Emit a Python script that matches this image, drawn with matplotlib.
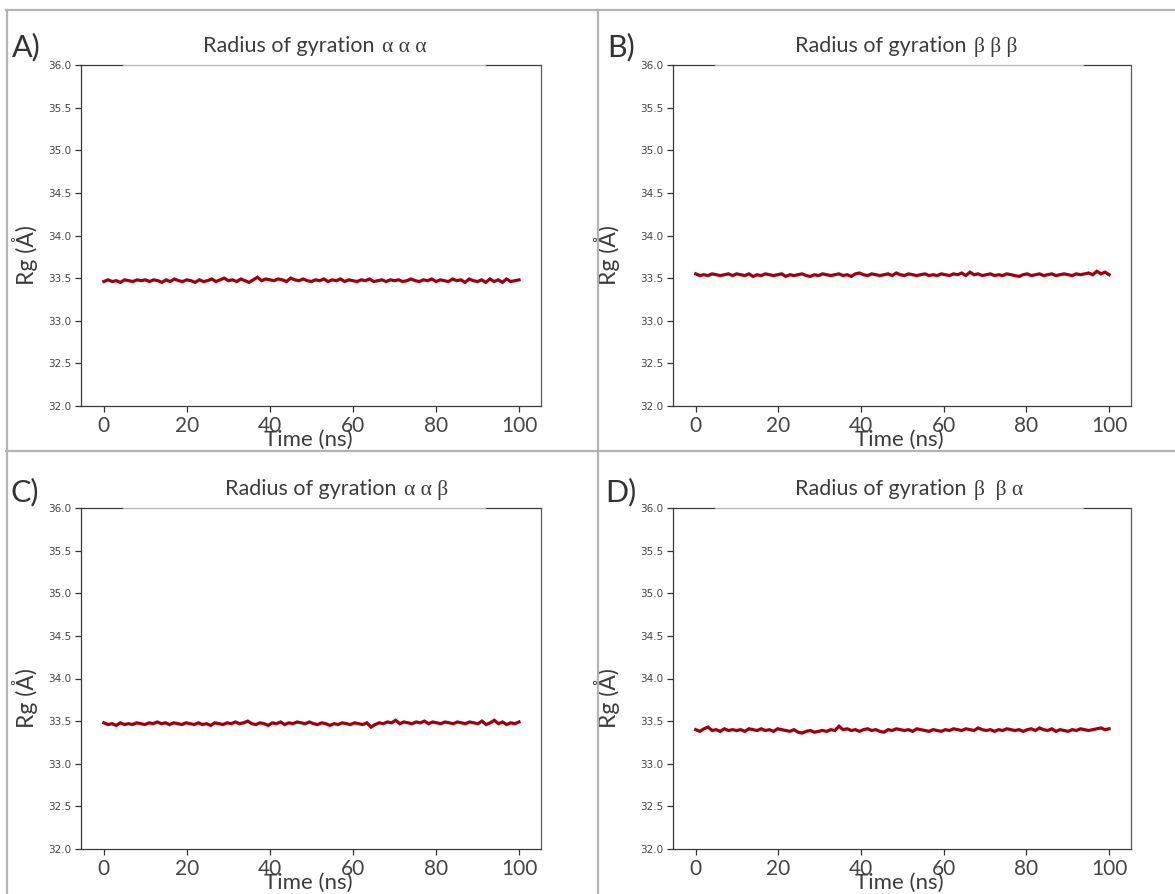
import numpy as np
import matplotlib
matplotlib.use("Agg")
import matplotlib.pyplot as plt
from matplotlib.lines import Line2D

# ---------------- data ----------------
panel_labels = ["A)", "B)", "C)", "D)"]
title_main = "Radius of gyration"
title_greek = ["\u03b1 \u03b1 \u03b1", "\u03b2 \u03b2 \u03b2",
               "\u03b1 \u03b1 \u03b2", "\u03b2  \u03b2 \u03b1"]
x_label = "Time (ns)"
y_label = "Rg (\u00c5)"
x_ticks = [0, 20, 40, 60, 80, 100]
y_ticks = [32.0, 32.5, 33.0, 33.5, 34.0, 34.5, 35.0, 35.5, 36.0]

rg_aaa = [33.46, 33.48, 33.46, 33.47, 33.45, 33.48, 33.47, 33.46, 33.48, 33.47, 33.48,
          33.46, 33.48, 33.47, 33.45, 33.48, 33.46, 33.49, 33.47, 33.46, 33.48,
          33.47, 33.45, 33.48, 33.46, 33.47, 33.49, 33.46, 33.48, 33.50, 33.47,
          33.48, 33.46, 33.49, 33.47, 33.45, 33.48, 33.51, 33.47, 33.49, 33.48,
          33.47, 33.49, 33.48, 33.46, 33.50, 33.48, 33.47, 33.49, 33.47, 33.46,
          33.48, 33.47, 33.49, 33.46, 33.48, 33.47, 33.49, 33.46, 33.48, 33.47,
          33.46, 33.48, 33.47, 33.49, 33.46, 33.47, 33.48, 33.46, 33.48, 33.47,
          33.48, 33.46, 33.47, 33.49, 33.47, 33.46, 33.48, 33.47, 33.49, 33.46,
          33.48, 33.47, 33.46, 33.49, 33.47, 33.48, 33.45, 33.49, 33.47, 33.46,
          33.48, 33.45, 33.49, 33.46, 33.48, 33.45, 33.49, 33.46, 33.47, 33.48]

rg_bbb = [33.55, 33.53, 33.54, 33.53, 33.55, 33.54, 33.53, 33.54, 33.55, 33.53, 33.55,
          33.54, 33.53, 33.55, 33.52, 33.54, 33.53, 33.55, 33.54, 33.53, 33.54,
          33.55, 33.52, 33.54, 33.53, 33.54, 33.55, 33.53, 33.52, 33.54, 33.53,
          33.55, 33.54, 33.53, 33.54, 33.55, 33.53, 33.54, 33.52, 33.55, 33.56,
          33.54, 33.53, 33.55, 33.54, 33.53, 33.54, 33.55, 33.53, 33.56, 33.54,
          33.53, 33.55, 33.54, 33.53, 33.54, 33.55, 33.53, 33.54, 33.53, 33.55,
          33.54, 33.53, 33.55, 33.54, 33.56, 33.53, 33.57, 33.54, 33.55, 33.53,
          33.54, 33.55, 33.53, 33.54, 33.53, 33.55, 33.54, 33.53, 33.52, 33.54,
          33.55, 33.53, 33.54, 33.55, 33.53, 33.54, 33.55, 33.53, 33.54, 33.55,
          33.54, 33.53, 33.55, 33.54, 33.55, 33.56, 33.54, 33.58, 33.55, 33.57, 33.54]

rg_aab = [33.48, 33.46, 33.47, 33.45, 33.48, 33.46, 33.47, 33.46, 33.48, 33.47, 33.46,
          33.48, 33.47, 33.49, 33.47, 33.48, 33.46, 33.48, 33.47, 33.46, 33.48,
          33.47, 33.46, 33.48, 33.46, 33.47, 33.45, 33.48, 33.47, 33.46, 33.48,
          33.47, 33.49, 33.47, 33.48, 33.50, 33.47, 33.46, 33.48, 33.47, 33.45,
          33.48, 33.47, 33.49, 33.46, 33.48, 33.47, 33.49, 33.48, 33.47, 33.49,
          33.47, 33.46, 33.48, 33.47, 33.45, 33.47, 33.46, 33.48, 33.47, 33.46,
          33.48, 33.47, 33.46, 33.48, 33.43, 33.46, 33.48, 33.47, 33.49, 33.48,
          33.51, 33.47, 33.49, 33.48, 33.47, 33.49, 33.48, 33.50, 33.47, 33.49,
          33.48, 33.47, 33.49, 33.48, 33.47, 33.49, 33.48, 33.47, 33.49, 33.48,
          33.47, 33.50, 33.46, 33.48, 33.51, 33.47, 33.49, 33.46, 33.48, 33.47, 33.49]

rg_bba = [33.40, 33.38, 33.41, 33.43, 33.39, 33.40, 33.38, 33.41, 33.39, 33.40, 33.39,
          33.40, 33.38, 33.41, 33.40, 33.39, 33.41, 33.39, 33.40, 33.38, 33.41,
          33.40, 33.39, 33.38, 33.40, 33.37, 33.36, 33.38, 33.39, 33.37, 33.38,
          33.39, 33.38, 33.40, 33.39, 33.44, 33.40, 33.41, 33.39, 33.40, 33.38,
          33.40, 33.41, 33.39, 33.40, 33.38, 33.37, 33.40, 33.39, 33.41, 33.40,
          33.39, 33.40, 33.38, 33.41, 33.40, 33.39, 33.38, 33.40, 33.39, 33.38,
          33.40, 33.39, 33.41, 33.40, 33.39, 33.41, 33.40, 33.39, 33.42, 33.40,
          33.39, 33.40, 33.38, 33.40, 33.39, 33.41, 33.40, 33.39, 33.40, 33.38,
          33.40, 33.41, 33.39, 33.42, 33.40, 33.39, 33.41, 33.38, 33.40, 33.39,
          33.38, 33.40, 33.39, 33.41, 33.40, 33.39, 33.40, 33.41, 33.42, 33.40, 33.41]

series = [rg_aaa, rg_bbb, rg_aab, rg_bba]

# ---------------- style ----------------
W, H = 1175, 894
fig = plt.figure(figsize=(W / 100, H / 100), dpi=100)
fig.patch.set_facecolor("white")

text_font = ["Lato", "DejaVu Sans"]
greek_font = ["Liberation Serif", "DejaVu Serif"]
line_color = "#9e000f"
text_color = "#3c3c3c"

# axes rectangles in pixel coordinates: (left, top, right, bottom)
rects = [(81, 65, 541, 406), (673, 65, 1131, 406),
         (81, 508, 541, 849), (673, 508, 1131, 849)]
label_pos = [(26, 47), (621, 47), (25, 492), (621, 492)]
title_left_px = [203, 795, 225, 795]

def px2fig(x, y):
    return x / W, 1 - y / H

renderer = fig.canvas.get_renderer()

for i, (lx, ty, rx, by) in enumerate(rects):
    l, t = px2fig(lx, ty)
    r, b = px2fig(rx, by)
    ax = fig.add_axes([l, b, r - l, t - b])
    rg = series[i]
    time_ns = np.linspace(0, 100, len(rg))
    ax.plot(time_ns, rg, color=line_color, lw=2.3, solid_joinstyle="miter")
    ax.set_xlim(-5.5, 105.3)
    ax.set_ylim(32.0, 36.0)
    ax.set_yticks(y_ticks)
    ax.set_yticklabels([f"{v:.1f}" for v in y_ticks], fontsize=7.5,
                       color="#444444", family="DejaVu Sans")
    ax.set_xticks(x_ticks)
    ax.set_xticklabels([str(v) for v in x_ticks], fontsize=15,
                       color="#454545", family=text_font)
    ax.tick_params(axis="both", direction="out", length=4, width=0.9,
                   color="#333333", pad=3)
    for s in ["left", "bottom", "right"]:
        ax.spines[s].set_color("#3a3a3a")
        ax.spines[s].set_linewidth(0.9)
    ax.spines["right"].set_color("#5a5a5a")
    ax.spines["top"].set_visible(False)
    # top spine: darker ends, lighter middle
    f0, f1 = (0.091, 0.878) if i % 2 == 0 else (0.092, 0.895)
    ax.plot([0, f0], [1, 1], transform=ax.transAxes, color="#3a3a3a",
            lw=0.9, clip_on=False)
    ax.plot([f1, 1], [1, 1], transform=ax.transAxes, color="#3a3a3a",
            lw=0.9, clip_on=False)
    ax.plot([f0, f1], [1, 1], transform=ax.transAxes, color="#b5b5b5",
            lw=0.9, clip_on=False)

    wpx = rx - lx
    hpx = by - ty
    # title: sans text followed by serif greek letters on the same baseline
    ty_ax = 1 + 13 / hpx
    t_main = ax.text((title_left_px[i] - lx) / wpx, ty_ax, title_main,
                     transform=ax.transAxes, ha="left", va="baseline",
                     fontsize=15.5, color=text_color, family=text_font)
    bb = t_main.get_window_extent(renderer=renderer)
    gx = ax.transAxes.inverted().transform((bb.x1 + 7, 0))[0]
    ax.text(gx, ty_ax, title_greek[i], transform=ax.transAxes,
            ha="left", va="baseline", fontsize=15.5, color=text_color,
            family=greek_font)
    # x label (overlapping tick labels as in reference)
    ax.text(0.5 - 3 / wpx, -34 / hpx, x_label, transform=ax.transAxes,
            ha="center", va="center", fontsize=16, color=text_color,
            family=text_font)
    # y label
    yl_x = (25 - lx) / wpx if i % 2 == 0 else (607 - lx) / wpx
    ax.text(yl_x, 0.5 - 20 / hpx, y_label, transform=ax.transAxes,
            ha="center", va="center", rotation=90, fontsize=16.5,
            color=text_color, family=text_font)
    # panel letter
    px, py = px2fig(*label_pos[i])
    fig.text(px, py, panel_labels[i], ha="center", va="center",
             fontsize=22, color="#333333", family=text_font)

# panel borders
border = dict(color="#b3b3b3", lw=1.6, transform=fig.transFigure)
fig.add_artist(Line2D([6 / W, 1], [1 - 10 / H] * 2, **border))
fig.add_artist(Line2D([6 / W, 1], [1 - 451 / H] * 2, **border))
fig.add_artist(Line2D([7 / W] * 2, [0, 1 - 10 / H], **border))
fig.add_artist(Line2D([598 / W] * 2, [0, 1 - 10 / H], **border))

fig.savefig("out.png", dpi=100, facecolor="white")
